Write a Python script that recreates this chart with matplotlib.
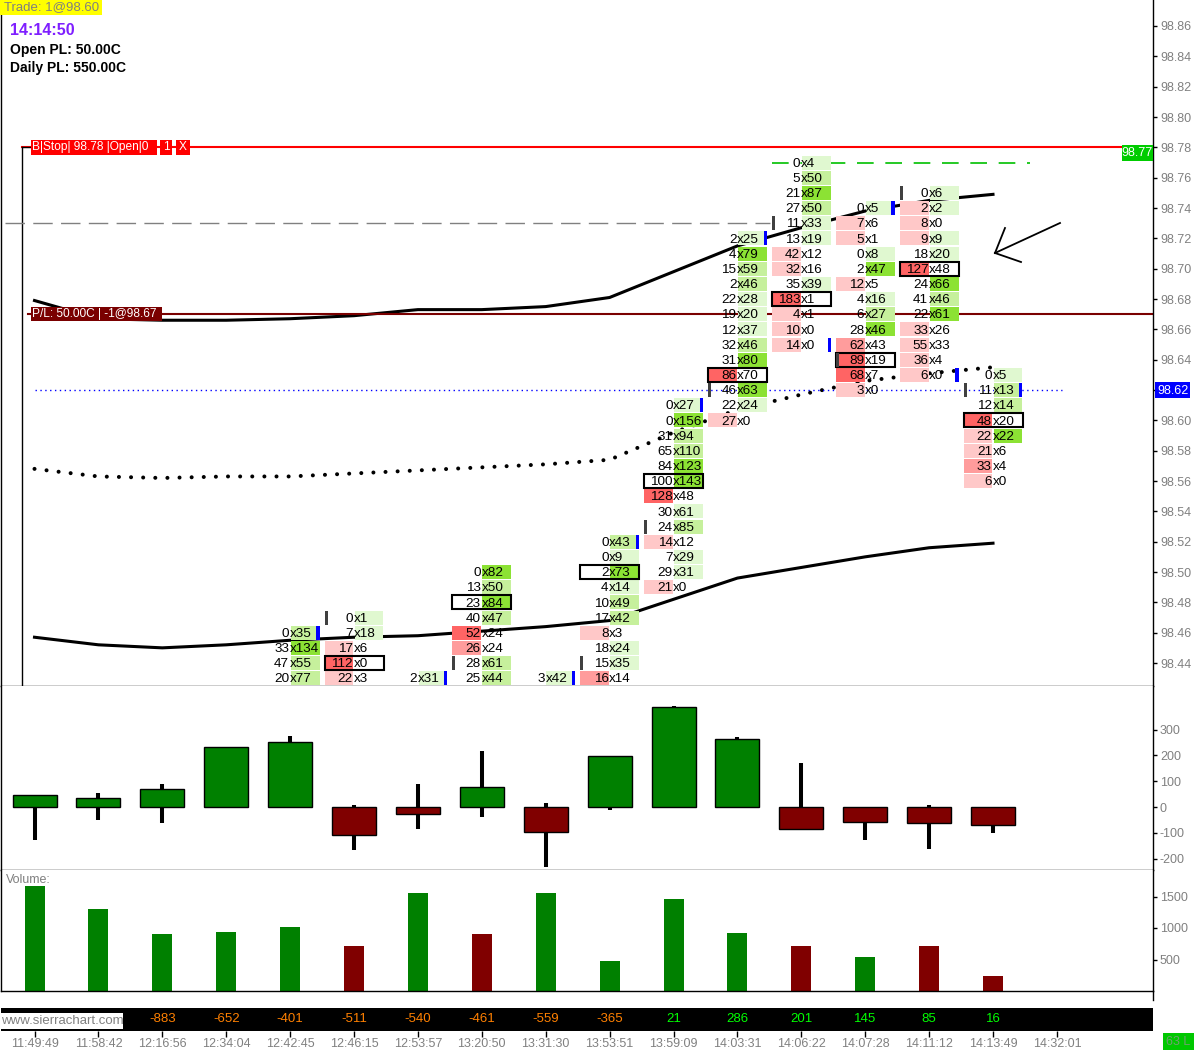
import matplotlib
matplotlib.use("Agg")
import matplotlib.pyplot as plt
from matplotlib.patches import Rectangle
from matplotlib.lines import Line2D

plt.rcParams['font.family'] = ['Liberation Sans', 'DejaVu Sans']
plt.rcParams['axes.unicode_minus'] = False

W, H = 1194, 1050

# ---- values ----
times = ["11:49:49", "11:58:42", "12:16:56", "12:34:04", "12:42:45", "12:46:15",
         "12:53:57", "13:20:50", "13:31:30", "13:53:51", "13:59:09", "14:03:31",
         "14:06:22", "14:07:28", "14:11:12", "14:13:49", "14:32:01"]

# bar delta in the black strip (bars 0 and 1 are hidden by the logo)
strip_bars = [2, 3, 4, 5, 6, 7, 8, 9, 10, 11, 12, 13, 14, 15]
strip_delta = [-883, -652, -401, -511, -540, -461, -559, -365, 21, 286, 201, 145, 85, 16]

# delta candles, every bar opens at 0
delta_close = [47, 35, 70, 232, 252, -108, -27, 78, -97, 198, 388, 263, -85, -58, -62, -70]
delta_high = [47, 54, 89, 232, 275, 8, 89, 217, 15, 198, 390, 270, 171, 0, 8, 0]
delta_low = [-128, -50, -62, 0, 0, -167, -85, -39, -232, -12, 0, 0, -85, -128, -163, -101]

volume = [1659, 1294, 897, 944, 1008, 722, 1563, 897, 1548, 484, 1468, 913, 722, 532, 722, 246]
price_up = [1, 1, 1, 1, 1, 0, 1, 0, 1, 1, 1, 1, 0, 1, 0, 0]

# moving averages on the price pane
ma_upper = [98.679, 98.667, 98.666, 98.666, 98.667, 98.669, 98.673, 98.673,
            98.675, 98.681, 98.698, 98.715, 98.727, 98.738, 98.745, 98.749]
ma_mid = [98.568, 98.563, 98.562, 98.563, 98.563, 98.565, 98.567, 98.569,
          98.571, 98.574, 98.592, 98.607, 98.617, 98.626, 98.631, 98.635]
ma_lower = [98.457, 98.452, 98.450, 98.452, 98.455, 98.457, 98.458, 98.461,
            98.464, 98.468, 98.482, 98.496, 98.503, 98.510, 98.516, 98.519]

# footprint columns (bid x ask per price, top row first)
fp_bar = [4, 5, 6, 7, 8, 9, 10, 11, 12, 13, 14, 15]
fp_top = [98.46, 98.47, 98.43, 98.50, 98.43, 98.52, 98.61, 98.72, 98.77, 98.74, 98.75, 98.63]
fp_bid = [
    [0, 33, 47, 20],
    [0, 7, 17, 112, 22],
    [2],
    [0, 13, 23, 40, 52, 26, 28, 25],
    [3],
    [0, 0, 2, 4, 10, 17, 8, 18, 15, 16],
    [0, 0, 31, 65, 84, 100, 128, 30, 24, 14, 7, 29, 21],
    [2, 4, 15, 2, 22, 19, 12, 32, 31, 86, 46, 22, 27],
    [0, 5, 21, 27, 11, 13, 42, 32, 35, 183, 4, 10, 14],
    [0, 7, 5, 0, 2, 12, 4, 6, 28, 62, 89, 68, 3],
    [0, 2, 8, 9, 18, 127, 24, 41, 22, 33, 55, 36, 6],
    [0, 11, 12, 48, 22, 21, 33, 6],
]
fp_ask = [
    [35, 134, 55, 77],
    [1, 18, 6, 0, 3],
    [31],
    [82, 50, 84, 47, 24, 24, 61, 44],
    [42],
    [43, 9, 73, 14, 49, 42, 3, 24, 35, 14],
    [27, 156, 94, 110, 123, 143, 48, 61, 85, 12, 29, 31, 0],
    [25, 79, 59, 46, 28, 20, 37, 46, 80, 70, 63, 24, 0],
    [4, 50, 87, 50, 33, 19, 12, 16, 39, 1, 1, 0, 0],
    [5, 6, 1, 8, 47, 5, 16, 27, 46, 43, 19, 7, 0],
    [6, 2, 0, 9, 20, 48, 66, 46, 61, 26, 33, 4, 0],
    [5, 13, 14, 20, 22, 6, 4, 0],
]
# shading level of each cell as seen in the picture (0 = none .. 3 = strong)
fp_bid_lvl = [
    [0, 0, 0, 0],
    [0, 0, 1, 3, 1],
    [0],
    [0, 0, 0, 0, 3, 2, 0, 0],
    [0],
    [0, 0, 0, 0, 0, 0, 1, 0, 0, 2],
    [0, 0, 0, 0, 0, 0, 3, 0, 0, 1, 0, 0, 1],
    [0, 0, 0, 0, 0, 0, 0, 0, 0, 3, 0, 0, 1],
    [0, 0, 0, 0, 0, 0, 1, 1, 0, 3, 1, 1, 1],
    [0, 1, 1, 0, 0, 1, 0, 0, 0, 2, 3, 3, 1],
    [0, 1, 1, 1, 0, 3, 0, 0, 0, 1, 1, 1, 1],
    [0, 0, 0, 3, 1, 1, 2, 1],
]
fp_ask_lvl = [
    [2, 3, 2, 2],
    [1, 1, 0, 0, 0],
    [1],
    [3, 2, 3, 2, 0, 0, 2, 2],
    [1],
    [2, 1, 3, 1, 2, 2, 0, 1, 1, 0],
    [1, 3, 2, 2, 3, 3, 0, 1, 2, 0, 1, 1, 0],
    [1, 3, 2, 2, 1, 1, 1, 2, 3, 0, 3, 1, 0],
    [1, 2, 3, 2, 1, 1, 0, 0, 1, 0, 0, 0, 0],
    [1, 0, 0, 1, 3, 0, 1, 2, 3, 0, 0, 0, 0],
    [1, 1, 0, 1, 1, 0, 3, 2, 3, 0, 0, 0, 0],
    [1, 2, 2, 0, 3, 0, 0, 0],
]
fp_poc = [None, 98.44, None, 98.48, None, 98.50, 98.56, 98.63, 98.68, 98.64, 98.70, 98.60]
fp_open = [None, 98.47, None, 98.44, None, 98.44, 98.53, 98.62, 98.73, 98.64, 98.75, 98.62]
fp_close = [98.46, None, 98.43, None, 98.43, 98.52, 98.61, 98.72, 98.65, 98.74, 98.63, 98.62]

stop_price = 98.78
target_price = 98.77
ref_price = 98.73
entry_price = 98.67
last_price = 98.62
price_ticks = [round(98.44 + 0.02 * k, 2) for k in range(22)]

bid_cols = {1: '#ffc8c8', 2: '#ff9c9c', 3: '#ff6464'}
ask_cols = {1: '#e0f8d0', 2: '#c6f09c', 3: '#8ce234'}
GREEN = '#008000'
MAROON = '#800000'
GRAY = '#808080'


# pixel helpers (only used for placing decorations)
def px_x(px):
    return (px - 34.5) / 63.9


def px_p(py):
    return 98.86 - (py - 26) / 1516.7


def fax(x0, y0, x1, y1):
    return fig.add_axes([x0 / W, 1 - y1 / H, (x1 - x0) / W, (y1 - y0) / H])


def fig_box(x0, y0, x1, y1, fc):
    fig.add_artist(Rectangle((x0 / W, 1 - y1 / H), (x1 - x0) / W, (y1 - y0) / H,
                             transform=fig.transFigure, fc=fc, ec='none'))


def fig_text(x, y, s, **kw):
    fig.text(x / W, 1 - y / H, s, va='center', **kw)


fig = plt.figure(figsize=(W / 100, H / 100), dpi=100)
fig.patch.set_facecolor('white')

xlim = (px_x(1), px_x(1153))


def style_panel(a):
    a.set_xlim(*xlim)
    a.set_xticks([])
    a.yaxis.tick_right()
    a.spines['top'].set_visible(False)
    for s in ['left', 'right', 'bottom']:
        a.spines[s].set_linewidth(1)
    a.tick_params(axis='y', direction='out', length=3, width=1, colors='black',
                  labelcolor=GRAY, labelsize=9, pad=2)


# ---------------- price pane ----------------
ax = fax(1, 0, 1153, 686)
style_panel(ax)
ax.set_ylim(px_p(686), px_p(0))
ax.set_yticks(price_ticks)
# the last-price box covers its own tick label
ax.set_yticklabels(['' if t == last_price else '%.2f' % t for t in price_ticks])

bars = list(range(len(ma_upper)))
ax.plot(bars, ma_upper, color='black', lw=2.2, zorder=2)
ax.plot(bars, ma_lower, color='black', lw=2.2, zorder=2)
ax.plot(bars, ma_mid, color='black', lw=2.9, linestyle=(0, (0.01, 3)),
        dash_capstyle='round', zorder=2)

ax.plot([px_x(22), px_x(1153)], [stop_price] * 2, color='#ff0000', lw=1.5, zorder=2)
ax.plot([px_x(22), px_x(31)], [stop_price] * 2, color='black', lw=1, zorder=2)
ax.plot([px_x(22), px_x(22)], [stop_price, px_p(690)], color='black', lw=1, zorder=2)
ax.plot([px_x(28), px_x(1153)], [entry_price] * 2, color='#7a0000', lw=1.5, zorder=2)
ax.plot([px_x(35), px_x(1062)], [last_price] * 2, color='#0000ff', lw=1,
        linestyle=(0, (1, 2.5)), zorder=2)
ax.plot([px_x(772), px_x(1030)], [target_price] * 2, color='#00c000', lw=1.2,
        linestyle=(0, (10, 7)), zorder=2)
ax.plot([px_x(5), px_x(770)], [ref_price] * 2, color=GRAY, lw=1,
        linestyle=(0, (14, 6)), zorder=2)

# hand drawn arrow
tip = (px_x(995), px_p(253))
for end in [(px_x(1060), px_p(223)), (px_x(1005), px_p(228)), (px_x(1021), px_p(262))]:
    ax.plot([tip[0], end[0]], [tip[1], end[1]], color='black', lw=1.3, zorder=2)

# footprint cells
cw = 29.5 / 63.9
gap = 0.6 / 63.9
rh = 14 / 1516.7
mk = 3.2 / 63.9
for b, top, bids, asks, bl, al, poc, op, cl in zip(fp_bar, fp_top, fp_bid, fp_ask,
                                                   fp_bid_lvl, fp_ask_lvl, fp_poc,
                                                   fp_open, fp_close):
    for k, (bv, av) in enumerate(zip(bids, asks)):
        p = round(top - 0.01 * k, 2)
        if bl[k]:
            ax.add_patch(Rectangle((b - cw, p - rh / 2), cw - gap, rh,
                                   fc=bid_cols[bl[k]], ec='none', zorder=3))
        if al[k]:
            ax.add_patch(Rectangle((b + gap, p - rh / 2), cw - gap, rh,
                                   fc=ask_cols[al[k]], ec='none', zorder=3))
        ax.text(b - 0.015, p - 0.0008, str(bv), ha='right', va='center', fontsize=9.7,
                color='black', zorder=5, clip_on=True)
        ax.text(b - 0.005, p - 0.0008, 'x' + str(av), ha='left', va='center', fontsize=9.7,
                color='black', zorder=5, clip_on=True)
    if poc is not None:
        ax.add_patch(Rectangle((b - cw, poc - rh / 2), 2 * cw, rh, fill=False,
                               ec='black', lw=1.5, zorder=4))
    if op is not None:
        ax.add_patch(Rectangle((b - cw, op - rh / 2), mk, rh, fc='#404040',
                               ec='none', zorder=4))
    if cl is not None:
        ax.add_patch(Rectangle((b + cw - mk, cl - rh / 2), mk, rh, fc='#0000ff',
                               ec='none', zorder=4))

# ---------------- delta candles ----------------
axd = fax(1, 686, 1153, 870)
style_panel(axd)
axd.set_ylim((807 - 870) / 0.258, (807 - 686) / 0.258)
axd.set_yticks([300, 200, 100, 0, -100, -200])
body = 44 / 63.9
for i, (c, hi, lo) in enumerate(zip(delta_close, delta_high, delta_low)):
    axd.plot([i, i], [lo, hi], color='black', lw=2.9, solid_capstyle='butt', zorder=2)
    col = GREEN if c >= 0 else MAROON
    axd.add_patch(Rectangle((i - body / 2, min(0, c)), body, abs(c), fc=col,
                            ec='black', lw=1, zorder=3))

# ---------------- volume ----------------
axv = fax(1, 870, 1153, 991)
style_panel(axv)
axv.set_ylim(0, (991 - 870) / 0.063)
axv.set_yticks([1500, 1000, 500])
axv.bar(bars, volume, width=20 / 63.9,
        color=[GREEN if u else MAROON for u in price_up], zorder=2)
axv.text(0.004, 0.915, 'Volume:', transform=axv.transAxes, color=GRAY, fontsize=9,
         ha='left', va='center')

# ---------------- black strip + time axis ----------------
axb = fax(1, 1008, 1153, 1031)
axb.set_facecolor('black')
axb.set_xlim(*xlim)
axb.set_ylim(0, 1)
for s in axb.spines.values():
    s.set_visible(False)
axb.set_yticks([])
axb.set_xticks(range(len(times)))
axb.set_xticklabels(times)
axb.tick_params(axis='x', direction='out', length=4, width=1, colors='black',
                labelcolor=GRAY, labelsize=9, pad=1)
for b, d in zip(strip_bars, strip_delta):
    axb.text(b, 0.5, str(d), color='#ff8000' if d < 0 else '#00ff00', fontsize=9.5,
             ha='center', va='center')

fig.add_artist(Line2D([1153 / W] * 2, [1 - 991 / H, 1 - 1000 / H], color='black',
                      lw=1, transform=fig.transFigure))

# ---------------- labels and boxes ----------------
fig_box(0, 0, 102, 15, '#ffff00')
fig_text(4, 7.5, 'Trade: 1@98.60', color=GRAY, fontsize=9.5)
fig_text(10, 30.5, '14:14:50', color='#7f1fff', fontsize=11.5, fontweight='bold')
fig_text(10, 50, 'Open PL: 50.00C', color='black', fontsize=10, fontweight='bold')
fig_text(10, 68, 'Daily PL: 550.00C', color='black', fontsize=10, fontweight='bold')

fig_box(31, 139.5, 157, 154.5, '#ff0000')
fig_box(160, 139.5, 172, 154.5, '#ff0000')
fig_box(175.5, 139.5, 190, 154.5, '#ff0000')
fig_text(32, 147.5, 'B|Stop| 98.78 |Open|0', color='white', fontsize=8.6)
fig_text(166, 147.5, '1', color='white', fontsize=8.6, ha='center')
fig_text(183, 147.5, 'X', color='white', fontsize=8.6, ha='center')

fig_box(31, 307, 162, 321, '#7a0000')
fig_text(32, 314.5, 'P/L: 50.00C | -1@98.67', color='white', fontsize=8.6)

fig_box(1122, 145, 1153, 161, '#00cc00')
fig_text(1137.5, 153.5, '98.77', color='white', fontsize=9, ha='center')
fig_box(1155, 382, 1190, 398, '#0000ff')
fig_text(1172.5, 390.5, '98.62', color='white', fontsize=9, ha='center')

fig_box(0, 1013, 123, 1029, 'white')
fig_text(1, 1021.5, 'www.sierrachart.com', color=GRAY, fontsize=9.5)

fig_box(1163, 1033, 1194, 1050, '#00c800')
fig_text(1178.5, 1042, '63 L', color='#70a070', fontsize=9, ha='center')

fig.savefig('out.png', dpi=100)
